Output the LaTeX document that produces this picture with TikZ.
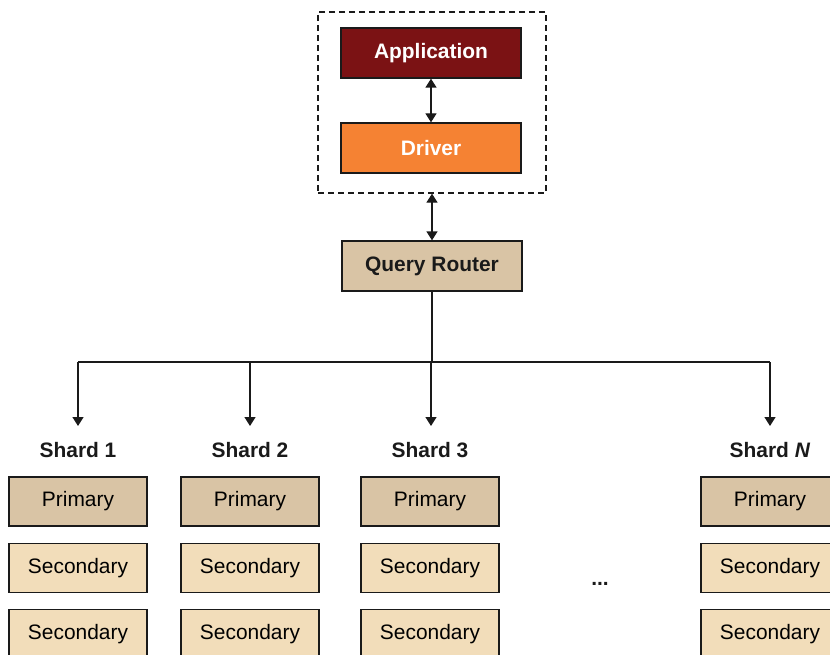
\documentclass[tikz,border=0pt]{standalone}
\usepackage{fontspec}
\setmainfont{Liberation Sans}
\usetikzlibrary{arrows.meta}
\definecolor{appred}{RGB}{123,18,20}
\definecolor{drvorange}{RGB}{245,130,51}
\definecolor{primtan}{RGB}{217,196,165}
\definecolor{sectan}{RGB}{242,221,186}
\definecolor{ink}{RGB}{26,26,26}
\tikzset{
  box/.style={draw=ink, line width=1.3bp, minimum width=180bp, minimum height=50bp,
    inner sep=0pt, font=\fontsize{21}{24}\selectfont},
  topbox/.style={box, text=white, font=\fontsize{21}{24}\selectfont\bfseries},
  member/.style={box, minimum width=138bp, minimum height=49bp},
  primbox/.style={member, fill=primtan},
  secbox/.style={member, fill=sectan},
  shardlabel/.style={font=\fontsize{21}{24}\selectfont\bfseries, text=ink},
  conn/.style={draw=ink, line width=1.3bp},
  tip/.style={-{Triangle[length=9bp,width=11bp]}},
  dtip/.style={{Triangle[length=9bp,width=11bp]}-{Triangle[length=9bp,width=11bp]}}
}
\begin{document}
\begin{tikzpicture}[x=1bp, y=-1bp]
  \useasboundingbox (0,0) rectangle (830,655);
  \clip (0,0) rectangle (830,655);

  % client side: application and driver in a dashed frame
  \node[draw=ink, dashed, dash pattern=on 6bp off 4bp, line width=1.3bp,
        minimum width=228bp, minimum height=181bp, inner sep=0pt] (client) at (432,102.5) {};
  \node[topbox, fill=appred] (app) at (431,53) {Application};
  \node[topbox, fill=drvorange] (drv) at (431,148) {Driver};
  \draw[conn, dtip] (app) -- (drv);

  % router
  \node[box, fill=primtan, font=\fontsize{21}{24}\selectfont\bfseries, text=ink] (router) at (432,266) {Query Router};
  \draw[conn, dtip] (client.south -| router.north) -- (router.north);

  % fan-out to shards
  \coordinate (hub) at (432,362);
  \coordinate (b1) at (78,362);
  \coordinate (b2) at (250,362);
  \coordinate (b3) at (431,362);
  \coordinate (bN) at (770,362);
  \coordinate (e1) at (78,426);
  \coordinate (e2) at (250,426);
  \coordinate (e3) at (431,426);
  \coordinate (eN) at (770,426);
  \draw[conn] (router.south) -- (hub);
  \draw[conn] (b1) -- (bN);
  \foreach \i in {1,2,3,N} \draw[conn, tip] (b\i) -- (e\i);

  % shard labels
  \node[shardlabel] (l1) at (78,450) {Shard 1};
  \node[shardlabel] (l2) at (250,450) {Shard 2};
  \node[shardlabel] (l3) at (430,450) {Shard 3};
  \node[shardlabel] (lN) at (770,450) {Shard \textit{N}};

  % replica sets
  \foreach \n/\x in {1/78, 2/250, 3/430, N/770} {
    \node[primbox] (p\n) at (\x,501.5) {Primary};
    \node[secbox] (s\n a) at (\x,568) {Secondary};
    \node[secbox] (s\n b) at (\x,634) {Secondary};
  }

  \node[font=\fontsize{21}{24}\selectfont\bfseries, text=ink] (dots) at (600,584) {...};
\end{tikzpicture}
\end{document}
